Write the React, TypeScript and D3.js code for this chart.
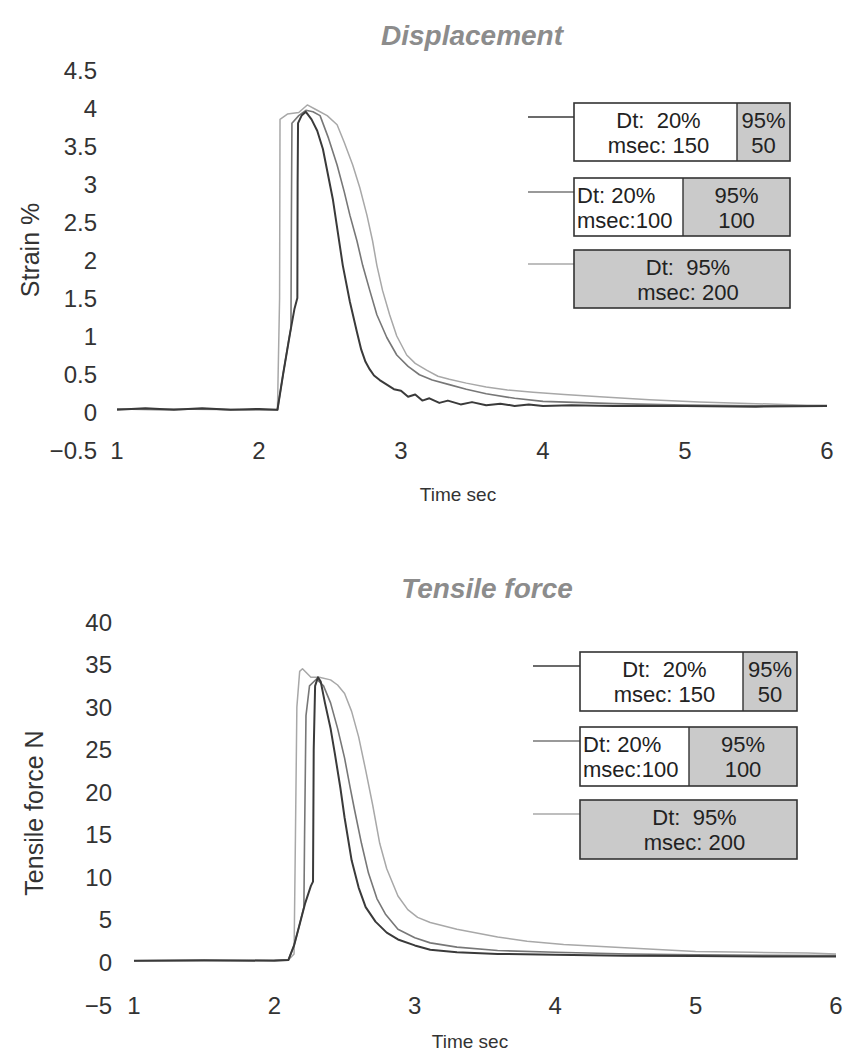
import React from "react";
import * as d3 from "d3";

type Pt = [number, number];

// ---- tick labels ----
const timeTicks = [1, 2, 3, 4, 5, 6];
const strainTicks = [-0.5, 0, 0.5, 1, 1.5, 2, 2.5, 3, 3.5, 4, 4.5];
const forceTicks = [-5, 0, 5, 10, 15, 20, 25, 30, 35, 40];

// ---- legend text (white part / gray part) ----
const legendWhite: (string[] | null)[] = [
  ["Dt:  20%", "msec: 150"],
  ["Dt: 20%", "msec:100"],
  null,
];
const legendGray: string[][] = [
  ["95%", "50"],
  ["95%", "100"],
  ["Dt:  95%", "msec: 200"],
];

// ---- displacement (strain %) vs time sec ----
const dispDark: Pt[] = [
  [1.0, 0.03], [1.2, 0.05], [1.4, 0.03], [1.6, 0.05], [1.8, 0.03], [2.0, 0.04], [2.13, 0.03],
  [2.17, 0.5], [2.22, 1.05], [2.25, 1.36], [2.27, 1.5], [2.272, 3.0], [2.275, 3.8], [2.3, 3.9],
  [2.33, 3.95], [2.37, 3.85], [2.41, 3.7], [2.45, 3.46], [2.52, 2.8], [2.59, 1.93], [2.64, 1.45],
  [2.69, 1.05], [2.72, 0.82], [2.75, 0.66], [2.78, 0.56], [2.81, 0.48], [2.85, 0.42], [2.9, 0.36],
  [2.95, 0.3], [3.0, 0.28], [3.05, 0.2], [3.1, 0.23], [3.15, 0.15], [3.2, 0.18], [3.27, 0.12],
  [3.33, 0.15], [3.42, 0.1], [3.5, 0.13], [3.6, 0.09], [3.7, 0.11], [3.8, 0.08], [3.9, 0.1],
  [4.0, 0.08], [4.2, 0.09], [4.5, 0.08], [5.0, 0.08], [5.5, 0.07], [6.0, 0.08],
];
const dispMid: Pt[] = [
  [1.0, 0.04], [1.3, 0.03], [1.6, 0.04], [1.9, 0.03], [2.13, 0.03],
  [2.17, 0.5], [2.21, 0.95], [2.225, 1.1], [2.228, 2.5], [2.232, 3.8], [2.28, 3.9], [2.33, 3.97],
  [2.38, 3.95], [2.43, 3.9], [2.49, 3.6], [2.55, 3.25], [2.6, 2.9], [2.64, 2.59], [2.69, 2.25],
  [2.73, 1.93], [2.78, 1.6], [2.83, 1.28], [2.9, 0.98], [2.97, 0.75], [3.05, 0.6], [3.13, 0.49],
  [3.22, 0.42], [3.34, 0.36], [3.46, 0.3], [3.6, 0.24], [3.8, 0.18], [4.0, 0.14], [4.5, 0.11],
  [5.0, 0.09], [5.5, 0.08], [6.0, 0.08],
];
const dispLight: Pt[] = [
  [1.0, 0.04], [1.4, 0.04], [1.8, 0.03], [2.13, 0.03], [2.145, 1.5], [2.148, 3.85], [2.2, 3.92],
  [2.28, 3.94], [2.34, 4.04], [2.4, 3.98], [2.48, 3.9], [2.55, 3.78], [2.6, 3.55], [2.66, 3.25],
  [2.71, 2.95], [2.76, 2.59], [2.8, 2.25], [2.83, 1.93], [2.87, 1.6], [2.92, 1.28], [2.97, 1.0],
  [3.04, 0.75], [3.1, 0.64], [3.18, 0.55], [3.26, 0.47], [3.34, 0.43], [3.46, 0.38], [3.6, 0.33],
  [3.75, 0.29], [3.93, 0.26], [4.15, 0.23], [4.4, 0.2], [4.75, 0.16], [5.1, 0.13], [5.5, 0.11],
  [5.86, 0.09], [6.0, 0.09],
];

// ---- tensile force N vs time sec ----
const forceDark: Pt[] = [
  [1.0, 0.2], [1.5, 0.25], [2.0, 0.2], [2.1, 0.3], [2.14, 2.0], [2.18, 4.5], [2.22, 7.0],
  [2.26, 9.0], [2.275, 9.5], [2.28, 25], [2.29, 32.5], [2.31, 33.5], [2.33, 33], [2.36, 30.5],
  [2.4, 27.5], [2.43, 24.6], [2.47, 20.5], [2.5, 17], [2.55, 12], [2.6, 8.8], [2.65, 6.5],
  [2.72, 4.8], [2.8, 3.5], [2.88, 2.7], [3.0, 2.0], [3.11, 1.5], [3.3, 1.2], [3.59, 1.0],
  [4.0, 0.9], [4.5, 0.8], [5.0, 0.75], [5.5, 0.7], [6.0, 0.7],
];
const forceMid: Pt[] = [
  [1.0, 0.2], [1.5, 0.2], [2.0, 0.25], [2.1, 0.3], [2.14, 2.0], [2.18, 4.5], [2.21, 6.5],
  [2.215, 15], [2.225, 29], [2.25, 32.5], [2.3, 33.3], [2.35, 32.5], [2.4, 30.5], [2.45, 27.5],
  [2.5, 24], [2.54, 20.5], [2.57, 18], [2.62, 14], [2.67, 10.5], [2.73, 7.5], [2.79, 5.7],
  [2.88, 3.9], [3.0, 2.9], [3.11, 2.3], [3.3, 1.8], [3.59, 1.4], [4.0, 1.2], [4.53, 1.0],
  [5.0, 0.9], [5.5, 0.85], [6.0, 0.8],
];
const forceLight: Pt[] = [
  [1.0, 0.2], [1.5, 0.25], [2.0, 0.25], [2.1, 0.3], [2.14, 1.0], [2.15, 15], [2.16, 30],
  [2.18, 34.2], [2.2, 34.5], [2.23, 34.0], [2.26, 33.5], [2.32, 33.5], [2.4, 33.2], [2.45, 32.6],
  [2.5, 31.6], [2.55, 29.5], [2.6, 26.5], [2.65, 22.6], [2.7, 18.5], [2.75, 14], [2.8, 11],
  [2.88, 7.8], [2.95, 6.2], [3.02, 5.3], [3.11, 4.7], [3.3, 3.9], [3.59, 3.0], [3.8, 2.5],
  [4.06, 2.1], [4.53, 1.7], [5.0, 1.3], [5.4, 1.2], [5.8, 1.1], [6.0, 1.0],
];

const FONT = "'Liberation Sans', Arial, sans-serif";
const seriesColor = ["#3a3a3a", "#777", "#a8a8a8"];
const seriesWidth = [2, 1.6, 1.5];

type PanelProps = {
  title: string;
  titleX: number;
  titleY: number;
  yLabel: string;
  yLabelX: number;
  yLabelY: number;
  xLabelX: number;
  xLabelY: number;
  yTicks: number[];
  xRange: [number, number];
  yRange: [number, number];
  yDomain: [number, number];
  yTickRight: number;
  series: Pt[][];
  legend: { x: number; w: number; h: number; ys: number[]; splits: number[]; stub: number };
};

const Panel = (p: PanelProps) => {
  const x = d3.scaleLinear().domain([1, 6]).range(p.xRange);
  const y = d3.scaleLinear().domain(p.yDomain).range(p.yRange);
  const line = d3
    .line<Pt>()
    .x((d) => x(d[0]))
    .y((d) => y(d[1]));
  const bottom = y(p.yDomain[0]);
  const L = p.legend;

  return (
    <g fontFamily={FONT}>
      <text
        x={p.titleX}
        y={p.titleY}
        textAnchor="middle"
        fontSize={28}
        fontWeight="bold"
        fontStyle="italic"
        fill="#8c8c8c"
      >
        {p.title}
      </text>

      {/* y ticks */}
      {p.yTicks.map((t) => (
        <text
          key={"y" + t}
          x={p.yTickRight}
          y={y(t)}
          textAnchor="end"
          dominantBaseline="central"
          fontSize={24}
          fill="#333"
        >
          {t < 0 ? "\u2212" + Math.abs(t) : t}
        </text>
      ))}

      {/* x ticks */}
      {timeTicks.map((t) => (
        <text
          key={"x" + t}
          x={x(t)}
          y={bottom}
          textAnchor="middle"
          dominantBaseline="central"
          fontSize={24}
          fill="#333"
        >
          {t}
        </text>
      ))}

      <text
        transform={`translate(${p.yLabelX},${p.yLabelY}) rotate(-90)`}
        textAnchor="middle"
        dominantBaseline="central"
        fontSize={25}
        fill="#333"
      >
        {p.yLabel}
      </text>
      <text x={p.xLabelX} y={p.xLabelY} textAnchor="middle" fontSize={19} fill="#333">
        Time sec
      </text>

      {/* curves, light first so dark sits on top */}
      {[2, 1, 0].map((i) => (
        <path
          key={"s" + i}
          d={line(p.series[i]) || ""}
          fill="none"
          stroke={seriesColor[i]}
          strokeWidth={seriesWidth[i]}
          strokeLinejoin="round"
        />
      ))}

      {/* legend boxes */}
      {legendGray.map((g, i) => {
        const top = L.ys[i];
        const split = L.splits[i];
        const white = legendWhite[i];
        const cy = top + L.h / 2;
        const grayX = L.x + split;
        const grayW = L.w - split;
        const alignLeft = i === 1;
        return (
          <g key={"lg" + i}>
            <line
              x1={L.x - L.stub}
              x2={L.x}
              y1={top + 14}
              y2={top + 14}
              stroke={seriesColor[i]}
              strokeWidth={1.6}
            />
            <rect x={L.x} y={top} width={L.w} height={L.h} fill="#fff" />
            <rect x={grayX} y={top} width={grayW} height={L.h} fill="#cacaca" />
            <rect
              x={L.x}
              y={top}
              width={L.w}
              height={L.h}
              fill="none"
              stroke="#333"
              strokeWidth={1.6}
            />
            {split > 0 && (
              <line x1={grayX} x2={grayX} y1={top} y2={top + L.h} stroke="#333" strokeWidth={1.4} />
            )}
            {white &&
              white.map((s, k) => (
                <text
                  key={"w" + k}
                  x={alignLeft ? L.x + 3 : L.x + split / 2 + 3}
                  y={cy + (k === 0 ? -12 : 13)}
                  textAnchor={alignLeft ? "start" : "middle"}
                  dominantBaseline="central"
                  fontSize={22}
                  fill="#222"
                  style={{ whiteSpace: "pre" }}
                >
                  {s}
                </text>
              ))}
            {g.map((s, k) => (
              <text
                key={"g" + k}
                x={grayX + grayW / 2 + (split === 0 ? 6 : 0)}
                y={cy + (k === 0 ? -12 : 13)}
                textAnchor="middle"
                dominantBaseline="central"
                fontSize={22}
                fill="#222"
                style={{ whiteSpace: "pre" }}
              >
                {s}
              </text>
            ))}
          </g>
        );
      })}
    </g>
  );
};

export default function App() {
  return (
    <div style={{ position: "absolute", left: 0, top: 0 }}>
      <svg width={845} height={1057} style={{ display: "block", background: "#fff" }}>
        <Panel
          title="Displacement"
          titleX={472}
          titleY={45}
          yLabel="Strain %"
          yLabelX={30}
          yLabelY={250}
          xLabelX={458}
          xLabelY={501}
          yTicks={strainTicks}
          xRange={[117, 827]}
          yDomain={[-0.5, 4.5]}
          yRange={[450, 70]}
          yTickRight={97}
          series={[dispDark, dispMid, dispLight]}
          legend={{ x: 574, w: 216, h: 58, ys: [103, 178, 250], splits: [163, 109, 0], stub: 46 }}
        />
        <Panel
          title="Tensile force"
          titleX={487}
          titleY={598}
          yLabel="Tensile force N"
          yLabelX={34}
          yLabelY={813}
          xLabelX={470}
          xLabelY={1048}
          yTicks={forceTicks}
          xRange={[134, 836]}
          yDomain={[-5, 40]}
          yRange={[1005, 622]}
          yTickRight={112}
          series={[forceDark, forceMid, forceLight]}
          legend={{ x: 580, w: 217, h: 59, ys: [652, 727, 800], splits: [163, 109, 0], stub: 47 }}
        />
      </svg>
    </div>
  );
}
